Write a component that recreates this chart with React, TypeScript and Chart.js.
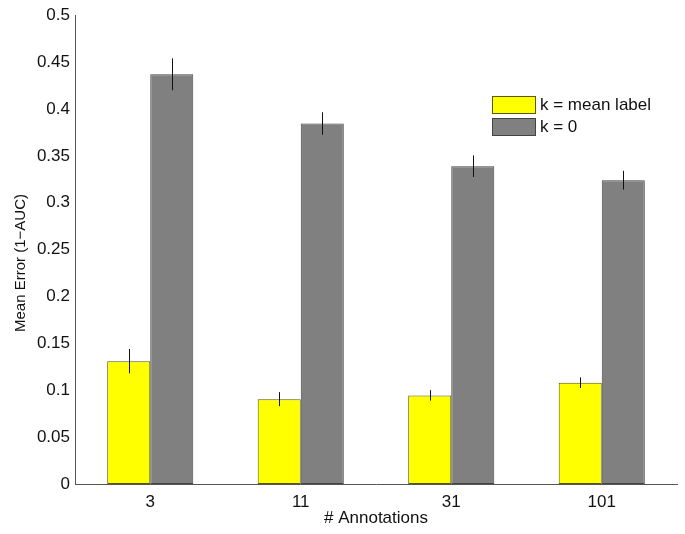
import React, { useEffect, useRef } from "react";
import { Chart, registerables } from "chart.js";

Chart.register(...registerables);

const categories = ["3", "11", "31", "101"];
const seriesLabels = ["k = mean label", "k = 0"];
const meanLabelValues = [0.131, 0.0905, 0.0945, 0.108];
const meanLabelErrors = [0.013, 0.0075, 0.0056, 0.0057];
const zeroValues = [0.437, 0.3845, 0.339, 0.324];
const zeroErrors = [0.017, 0.012, 0.0115, 0.01];
const yTicks = [0, 0.05, 0.1, 0.15, 0.2, 0.25, 0.3, 0.35, 0.4, 0.45, 0.5];

const FONT = "'Liberation Sans', Arial, sans-serif";
const colors = ["#ffff00", "#808080"];
const errors = [meanLabelErrors, zeroErrors];

const errorBarPlugin = {
  id: "errorBars",
  afterDatasetsDraw(chart: any) {
    const ctx = chart.ctx;
    const y = chart.scales.y;
    ctx.save();
    ctx.strokeStyle = "#111";
    ctx.lineWidth = 1;
    chart.data.datasets.forEach((ds: any, di: number) => {
      const meta = chart.getDatasetMeta(di);
      meta.data.forEach((bar: any, i: number) => {
        const v = ds.data[i];
        const e = errors[di][i];
        const x = Math.round(bar.x) + 0.5;
        ctx.beginPath();
        ctx.moveTo(x, y.getPixelForValue(v + e));
        ctx.lineTo(x, y.getPixelForValue(v - e));
        ctx.stroke();
      });
    });
    ctx.restore();
  },
};

const decorPlugin = {
  id: "decor",
  afterDraw(chart: any) {
    const ctx = chart.ctx;
    const area = chart.chartArea;
    ctx.save();
    // legend
    const lx = 492;
    const ly = [96, 118];
    ctx.font = `17px ${FONT}`;
    ctx.textBaseline = "middle";
    ctx.textAlign = "left";
    seriesLabels.forEach((label, i) => {
      ctx.fillStyle = colors[i];
      ctx.fillRect(lx, ly[i], 43, 17);
      ctx.strokeStyle = i === 0 ? "#5a5a00" : "#444";
      ctx.lineWidth = 1;
      ctx.strokeRect(lx + 0.5, ly[i] + 0.5, 43, 17);
      ctx.fillStyle = "#111";
      ctx.fillText(label, lx + 48, ly[i] + 9);
    });
    // x title
    ctx.textAlign = "center";
    ctx.fillText("# Annotations", (area.left + area.right) / 2, 518);
    // y title
    ctx.translate(21, 263);
    ctx.rotate(-Math.PI / 2);
    ctx.font = `15px ${FONT}`;
    ctx.fillText("Mean Error (1\u2212AUC)", 0, 0);
    ctx.restore();
  },
};

export default function App() {
  const ref = useRef<HTMLCanvasElement>(null);
  useEffect(() => {
    document.body.style.margin = "0";
    const chart = new Chart(ref.current!, {
      type: "bar",
      data: {
        labels: categories,
        datasets: [
          {
            label: seriesLabels[0],
            data: meanLabelValues,
            backgroundColor: colors[0],
            borderColor: "#5a5a00",
            borderWidth: 1,
            borderSkipped: false,
            barPercentage: 1,
            categoryPercentage: 0.572,
          },
          {
            label: seriesLabels[1],
            data: zeroValues,
            backgroundColor: colors[1],
            borderColor: "#444",
            borderWidth: 1,
            borderSkipped: false,
            barPercentage: 1,
            categoryPercentage: 0.572,
          },
        ],
      },
      options: {
        responsive: false,
        animation: false,
        layout: { padding: { top: 15, right: 8, left: 0, bottom: 0 } },
        plugins: { legend: { display: false }, tooltip: { enabled: false } },
        scales: {
          x: {
            grid: { display: false, drawTicks: false },
            border: { display: true, color: "#555", width: 1 },
            ticks: { color: "#111", font: { family: FONT, size: 17 }, padding: 8 },
            afterFit: (s: any) => {
              s.height = 50;
            },
          },
          y: {
            min: 0,
            max: 0.5,
            grid: { display: false, drawTicks: false },
            border: { display: true, color: "#555", width: 1 },
            afterBuildTicks: (s: any) => {
              s.ticks = yTicks.map((v) => ({ value: v }));
            },
            ticks: {
              color: "#111",
              font: { family: FONT, size: 17 },
              padding: 5,
              callback: (v: any) => String(Number(Number(v).toFixed(2))),
            },
            afterFit: (s: any) => {
              s.width = 75;
            },
          },
        },
      },
      plugins: [errorBarPlugin, decorPlugin],
    });
    return () => chart.destroy();
  }, []);
  return <canvas ref={ref} width={685} height={534} style={{ display: "block" }} />;
}
